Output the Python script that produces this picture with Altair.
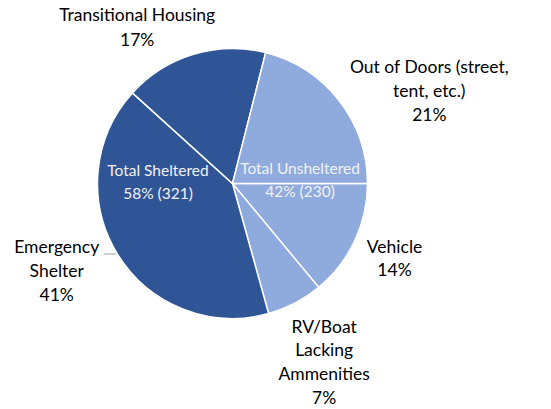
import math
import pandas as pd
import altair as alt

# ---- data ----
categories = ["Vehicle", "RV/Boat Lacking Ammenities", "Emergency Shelter",
              "Transitional Housing", "Out of Doors (street, tent, etc.)"]
display_labels = ["Vehicle", "RV/Boat\nLacking\nAmmenities", "Emergency\nShelter",
                  "Transitional Housing", "Out of Doors (street,\ntent, etc.)"]
counts = [77, 37, 226, 95, 116]
groups = ["Unsheltered", "Unsheltered", "Sheltered", "Sheltered", "Unsheltered"]
group_keys = ["Sheltered", "Unsheltered"]
group_titles = ["Total Sheltered", "Total Unsheltered"]

df = pd.DataFrame({"cat": categories, "label": display_labels, "count": counts,
                   "group": groups, "ord": list(range(len(categories)))})
total = sum(counts)
g_counts = [sum(c for c, g in zip(counts, groups) if g == k) for k in group_keys]
# mid angles of the two group wedges (sheltered contiguous, unsheltered wraps around)
start = math.pi / 2
sh_mid = start + 2 * math.pi * (sum(counts[:2]) + sum(counts[2:4]) / 2) / total
un_mid = start + 2 * math.pi * (sum(counts[:4]) + (counts[4] + counts[0] + counts[1]) / 2) / total
gdf = pd.DataFrame({"title": group_titles, "count": g_counts, "mid": [sh_mid, un_mid],
                    "group": group_keys})
gdf["total"] = total

# ---- layout / style ----
CX, CY, R = 232.5, 183.5, 135
FONT = "Lato"
OUT_SIZE = 17.5
IN_SIZE = 15.5
LH = 23.7
color_scale = alt.Scale(domain=group_keys, range=["#2F5597", "#8FAADC"])
theta_scale = alt.Scale(range=[start, start + 2 * math.pi])

base = alt.Chart(df).encode(
    theta=alt.Theta("count:Q", stack=True, scale=theta_scale),
    order=alt.Order("ord:Q", sort="ascending"),
    x=alt.value(CX), y=alt.value(CY),
)

arcs = base.mark_arc(radius=R, stroke="white", strokeWidth=1.5).encode(
    color=alt.Color("group:N", scale=color_scale, legend=None)
)

# per-label placement: (radius, dx, dy, lineHeight)
label_layout = [
    (179, 0, -11.8, LH),       # Vehicle
    (201, -1.5, -34, LH),      # RV/Boat
    (196, -9, -38, LH),        # Emergency Shelter
    (160, -49, -14.5, 25),     # Transitional Housing
    (200, 39, 7.5, LH),        # Out of Doors
]

layers = [arcs]
for i, (r, dx, dy, lh) in enumerate(label_layout):
    t = (base.transform_joinaggregate(tot="sum(count)")
         .transform_calculate(
             txt=f"datum.ord === {i} ? datum.label + '\\n' + format(datum.count / datum.tot, '.0%') : ''")
         .mark_text(radius=r, dx=dx, dy=dy, lineBreak="\n", font=FONT, fontSize=OUT_SIZE,
                    lineHeight=lh, color="#000000", align="center", baseline="middle")
         .encode(text="txt:N"))
    layers.append(t)

inner = (alt.Chart(gdf)
         .transform_calculate(
             txt="datum.title + '\\n' + format(datum.count / datum.total, '.0%') + ' (' + datum.count + ')'")
         .mark_text(radius=71, dx=-3.5, dy=-13.5, lineBreak="\n", font=FONT, fontSize=IN_SIZE,
                    lineHeight=23, color="#F2F2F2", align="center", baseline="middle")
         .encode(theta=alt.Theta("mid:Q", scale=None), text="txt:N",
                 x=alt.value(CX), y=alt.value(CY)))
layers.append(inner)

leader = (alt.Chart(pd.DataFrame({"k": [0]}))
          .mark_rule(color="#BFBFBF", strokeWidth=1.5)
          .encode(x=alt.value(104), x2=alt.value(116), y=alt.value(254)))
layers.append(leader)

chart = (alt.layer(*layers)
         .resolve_scale(theta="independent")
         .properties(width=551, height=409, padding=0, autosize=alt.AutoSizeParams(type="none"),
                     background="white")
         .configure_view(stroke=None))

chart.save("out.html", embed_options={"renderer": "svg", "actions": False})
